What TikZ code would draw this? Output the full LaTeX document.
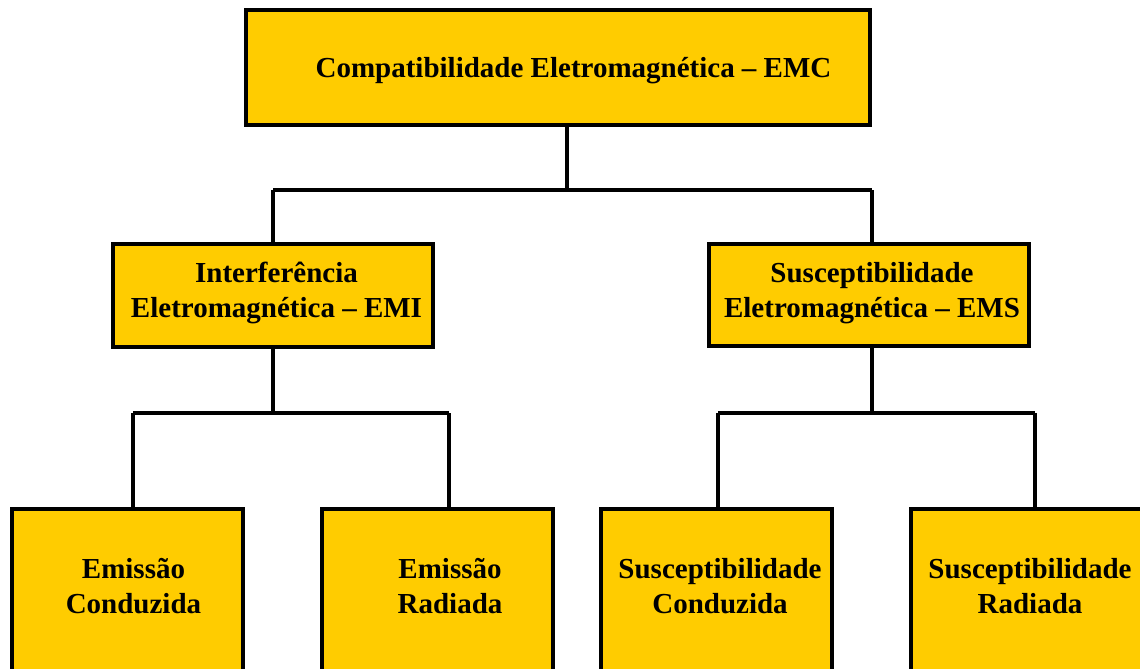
\documentclass[tikz,border=0pt]{standalone}
\usepackage{fontspec}
\setmainfont{Liberation Serif}
\definecolor{gold}{HTML}{FFCC00}
\begin{document}
\begin{tikzpicture}[x=0.5pt,y=-0.5pt,
  box/.style={draw=black, fill=gold, line width=2pt, rectangle, inner sep=0pt, outer sep=0pt},
  lbl/.style={font=\fontsize{14.5}{17.5}\selectfont\bfseries, align=center, inner sep=0pt},
  conn/.style={draw=black, line width=1.6pt}]
\clip (0,0) rectangle (1140,669);
% boxes
\node[box, minimum width=312pt, minimum height=57.5pt] (emc) at (558,67.5) {};
\node[box, minimum width=160pt, minimum height=51.5pt] (emi) at (273,295.5) {};
\node[box, minimum width=160pt, minimum height=51pt] (ems) at (869,295) {};
\node[box, minimum width=115.5pt, minimum height=85pt] (ec) at (127.5,594) {};
\node[box, minimum width=115.5pt, minimum height=85pt] (er) at (437.5,594) {};
\node[box, minimum width=115.5pt, minimum height=85pt] (sc) at (716.5,594) {};
\node[box, minimum width=115.5pt, minimum height=85pt] (sr) at (1026.5,594) {};
% texts
\node[lbl] (temc) at (573.5,71) {Compatibilidade Eletromagnética – EMC};
\node[lbl] (temi) at (276.5,293) {Interferência\\Eletromagnética – EMI};
\node[lbl] (tems) at (872,293) {Susceptibilidade\\Eletromagnética – EMS};
\node[lbl] (tec) at (133.5,586) {Emissão\\Conduzida};
\node[lbl] (ter) at (450,586) {Emissão\\Radiada};
\node[lbl] (tsc) at (720,586) {Susceptibilidade\\Conduzida};
\node[lbl] (tsr) at (1030,586) {Susceptibilidade\\Radiada};
% junctions
\coordinate (j0) at (567,190);
\coordinate (j1) at (273,413);
\coordinate (j2) at (872,413);
\coordinate (a1) at (273,190);
\coordinate (a2) at (872,190);
\coordinate (b1) at (133,413);
\coordinate (b2) at (449,413);
\coordinate (c1) at (718,413);
\coordinate (c2) at (1035,413);
% connectors
\draw[conn] (emc.south -| j0) -- (j0);
\draw[conn] (a1) -- (a2);
\draw[conn] (a1) -- (a1 |- emi.north);
\draw[conn] (a2) -- (a2 |- ems.north);
\draw[conn] (emi.south -| j1) -- (j1);
\draw[conn] (b1) -- (b2);
\draw[conn] (b1) -- (b1 |- ec.north);
\draw[conn] (b2) -- (b2 |- er.north);
\draw[conn] (ems.south -| j2) -- (j2);
\draw[conn] (c1) -- (c2);
\draw[conn] (c1) -- (c1 |- sc.north);
\draw[conn] (c2) -- (c2 |- sr.north);
\end{tikzpicture}
\end{document}
